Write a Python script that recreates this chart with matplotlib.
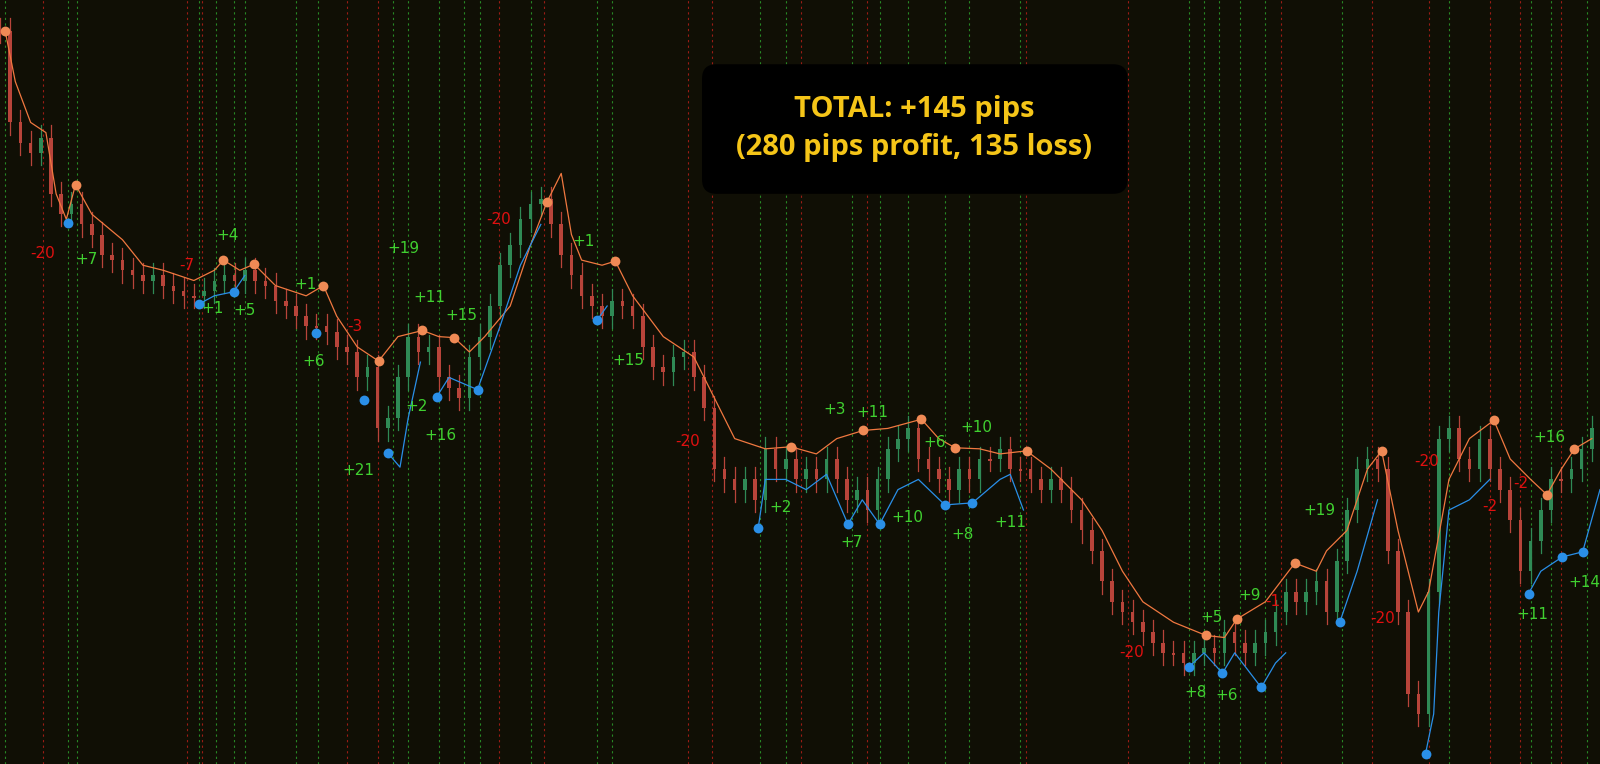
import matplotlib
matplotlib.use("Agg")
import matplotlib.pyplot as plt
from matplotlib.patches import FancyBboxPatch

# candle x positions (chart units) and closes (screen-level units, larger = lower on chart)
cx = list(range(0, 1570, 10))
closes = [30,120,140,150,135,190,210,200,220,230,250,255,265,270,275,270,280,285,290,290,
          285,275,270,275,265,275,280,295,300,310,320,320,325,340,345,370,360,420,410,370,
          330,345,340,370,380,390,350,330,300,260,240,215,200,195,220,250,270,290,300,310,
          295,300,310,340,360,365,350,345,370,400,460,470,480,470,490,440,460,450,470,460,
          470,450,470,490,480,500,470,440,430,420,450,460,470,480,460,470,450,450,440,460,
          460,470,480,470,480,500,520,540,570,590,600,610,620,630,640,640,650,640,635,640,
          620,630,640,630,620,600,580,590,580,570,600,550,500,460,450,460,540,600,680,700,
          580,430,420,450,460,430,460,480,510,560,530,500,470,470,460,440,420]

orange_line = [(5,30),(15,80),(30,120),(45,130),(55,190),(65,215),(74,181),(90,210),(120,235),
               (140,260),(160,265),(190,275),(210,265),(219,255),(235,265),(249,259),(270,280),
               (300,290),(317,280),(330,310),(350,340),(371,354),(390,330),(414,324),(430,330),
               (445,331),(460,345),(475,330),(500,300),(520,240),(536,198),(550,170),(560,230),
               (570,255),(590,260),(603,256),(620,290),(650,330),(680,350),(700,390),(720,430),
               (750,440),(775,438),(800,445),(820,430),(846,422),(870,420),(903,411),(920,430),
               (936,439),(960,440),(980,445),(1006,442),(1030,460),(1060,490),(1080,520),
               (1100,560),(1120,590),(1150,610),(1182,623),(1200,625),(1212,607),(1240,590),
               (1269,552),(1290,560),(1300,540),(1320,520),(1340,460),(1354,442),(1370,520),
               (1390,600),(1400,580),(1420,470),(1440,430),(1464,412),(1480,450),(1500,470),
               (1516,485),(1530,460),(1543,440),(1560,430)]

blue_segs = [
    [(195,298),(210,290),(229,286),(240,270)],
    [(380,444),(392,458),(400,410),(412,355)],
    [(428,389),(440,370),(468,382),(490,320),(510,260),(530,220)],
    [(585,314),(595,300)],
    [(743,518),(750,470),(770,470),(790,480),(810,465),(831,514),(845,490),(862,514),
     (880,480),(900,470),(926,495),(953,493),(980,470),(990,465),(1003,500)],
    [(1165,654),(1180,640),(1198,660),(1210,640),(1236,674),(1250,650),(1260,640)],
    [(1313,610),(1330,560),(1350,490)],
    [(1397,739),(1405,700),(1410,600),(1420,500),(1440,490),(1460,470)],
    [(1498,582),(1510,560),(1531,546),(1551,541),(1568,480)],
]

orange_dots = [(5,30),(74,181),(219,255),(249,259),(317,280),(371,354),(414,324),(445,331),
               (536,198),(603,256),(775,438),(846,422),(903,411),(936,439),(1006,442),
               (1182,623),(1212,607),(1269,552),(1354,442),(1464,412),(1516,485),(1543,440)]
blue_dots = [(67,219),(195,298),(229,286),(310,326),(357,392),(380,444),(428,389),(468,382),
             (585,314),(743,518),(831,514),(862,514),(926,495),(953,493),(1165,654),(1198,660),
             (1236,674),(1313,610),(1397,739),(1498,582),(1531,546),(1551,541)]

loss_labels = [("-20",42,249),("-7",183,260),("-3",348,320),("-20",489,215),("-20",674,433),
               ("-20",1109,640),("-1",1247,590),("-20",1355,606),("-20",1398,452),
               ("-2",1460,497),("-2",1490,474)]
win_labels = [("+7",85,254),("+4",223,231),("+1",208,302),("+5",240,304),("+1",299,279),
              ("+6",307,354),("+19",395,244),("+11",421,292),("+15",452,309),("+2",408,399),
              ("+16",432,427),("+21",351,461),("+1",572,237),("+15",616,353),("+3",818,401),
              ("+11",855,404),("+6",916,434),("+10",957,419),("+2",765,498),("+7",835,532),
              ("+10",889,507),("+8",943,524),("+11",990,512),("+19",1293,500),("+5",1187,605),
              ("+9",1225,584),("+8",1172,679),("+6",1202,682),("+16",1518,429),("+11",1502,602),
              ("+14",1553,571)]

red_vlines = [42,183,198,340,370,489,533,674,698,785,850,1005,1105,1255,1345,1400,1460,1490,1530]
green_vlines = [5,67,75,195,212,229,240,290,312,385,400,430,455,470,520,585,600,745,770,835,
                862,890,926,950,1000,1165,1180,1195,1215,1240,1315,1420,1500,1520,1555]

BG = "#100f05"
fig = plt.figure(figsize=(16, 7.64), dpi=100, facecolor=BG)
ax = fig.add_axes([0, 0, 1, 1], facecolor=BG)
ax.set_xlim(0, 1568)
ax.set_ylim(749, 0)
ax.axis("off")

for x in red_vlines:
    ax.axvline(x, color="#c0201a", lw=0.8, ls=(0, (2, 3)), alpha=0.8, zorder=1)
for x in green_vlines:
    ax.axvline(x, color="#2ea82e", lw=0.8, ls=(0, (2, 3)), alpha=0.8, zorder=1)

prev = closes[0]
for x, c in zip(cx, closes):
    o = prev
    up = c < o
    col = "#2f8a55" if up else "#b8443a"
    hi, lo = min(o, c) - 12, max(o, c) + 12
    ax.plot([x, x], [hi, lo], color=col, lw=0.9, zorder=2)
    ax.bar(x, max(abs(c - o), 2), bottom=min(o, c), width=3.5, color=col, zorder=2, linewidth=0)
    prev = c

ox, oy = zip(*orange_line)
ax.plot(ox, oy, color="#f07840", lw=0.9, zorder=3)
for seg in blue_segs:
    bx, by = zip(*seg)
    ax.plot(bx, by, color="#2a8fe8", lw=0.9, zorder=3)

ax.scatter(*zip(*orange_dots), s=50, color="#f08a55", zorder=4, linewidths=0)
ax.scatter(*zip(*blue_dots), s=50, color="#2a8fe8", zorder=4, linewidths=0)

for t, x, y in loss_labels:
    ax.text(x, y, t, color="#e01010", fontsize=11, ha="center", va="center", zorder=5)
for t, x, y in win_labels:
    ax.text(x, y, t, color="#40d030", fontsize=11, ha="center", va="center", zorder=5)

box = FancyBboxPatch((688, 63), 417, 127, boxstyle="round,pad=0,rounding_size=14",
                     facecolor="black", edgecolor="none", zorder=6)
ax.add_patch(box)
ax.text(896, 126, "TOTAL: +145 pips\n(280 pips profit, 135 loss)", color="#f5c518",
        fontsize=21, fontweight="bold", family="Open Sans", ha="center", va="center",
        linespacing=1.45, zorder=7)

fig.savefig("out.png", dpi=100, facecolor=BG)
